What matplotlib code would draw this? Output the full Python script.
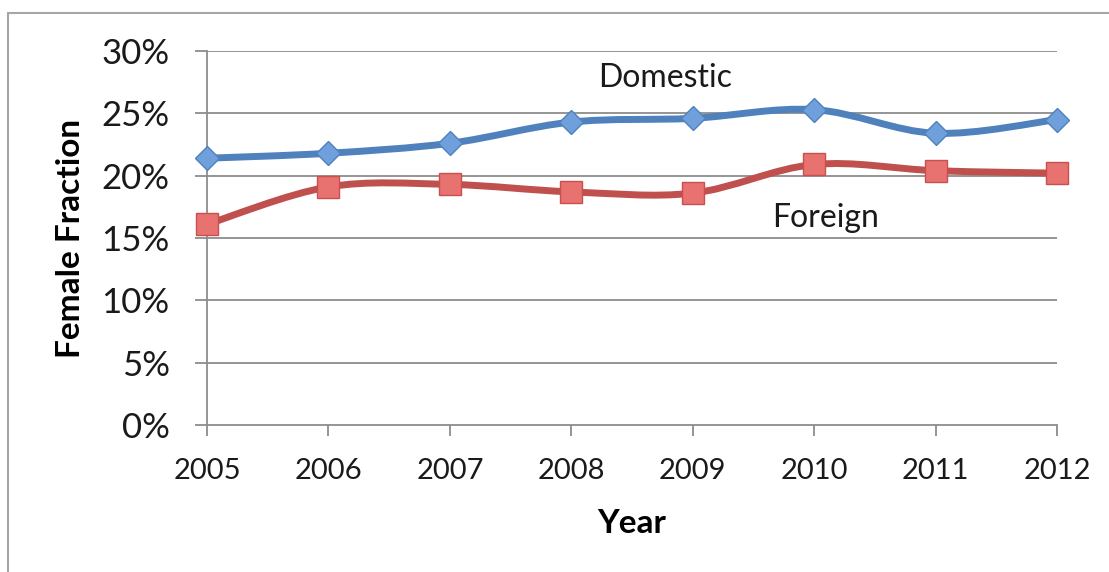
import matplotlib
matplotlib.use("Agg")
import matplotlib.pyplot as plt
from matplotlib.path import Path
from matplotlib.patches import PathPatch, Rectangle
from matplotlib.ticker import FuncFormatter

years = [2005, 2006, 2007, 2008, 2009, 2010, 2011, 2012]
domestic = [0.214, 0.218, 0.226, 0.243, 0.246, 0.253, 0.234, 0.245]
foreign = [0.161, 0.191, 0.193, 0.187, 0.186, 0.209, 0.204, 0.202]
y_ticks = [0, 0.05, 0.10, 0.15, 0.20, 0.25, 0.30]

plt.rcParams['font.family'] = ['Lato', 'DejaVu Sans']


def smooth_path(xs, ys):
    # Excel-like smoothed line: Catmull-Rom segments as cubic Beziers
    verts = [(xs[0], ys[0])]
    codes = [Path.MOVETO]
    n = len(xs)
    for i in range(n - 1):
        x0, y0 = (xs[i - 1], ys[i - 1]) if i > 0 else (xs[i], ys[i])
        x1, y1 = xs[i], ys[i]
        x2, y2 = xs[i + 1], ys[i + 1]
        x3, y3 = (xs[i + 2], ys[i + 2]) if i + 2 < n else (x2, y2)
        c1 = (x1 + (x2 - x0) / 6, y1 + (y2 - y0) / 6)
        c2 = (x2 - (x3 - x1) / 6, y2 - (y3 - y1) / 6)
        verts += [c1, c2, (x2, y2)]
        codes += [Path.CURVE4] * 3
    return Path(verts, codes)


fig = plt.figure(figsize=(11.09, 5.72), dpi=100)
fig.patches.append(Rectangle((0.007, -0.1), 1.2, 1.077, transform=fig.transFigure,
                             fill=False, edgecolor='#a6a6a6', linewidth=1.5))
ax = fig.add_axes([0.1867, 0.257, 0.7665, 0.6538])

grid_col = '#8c8c8c'
for t in y_ticks[1:]:
    ax.axhline(t, color=grid_col, linewidth=1.3, zorder=1)

ax.add_patch(PathPatch(smooth_path(years, domestic), fill=False, clip_on=False,
                       edgecolor='#4f81bd', linewidth=5, capstyle='round', zorder=3))
ax.add_patch(PathPatch(smooth_path(years, foreign), fill=False, clip_on=False,
                       edgecolor='#c0504d', linewidth=5, capstyle='round', zorder=3))
ax.plot(years, domestic, linestyle='none', marker='D', markersize=12, clip_on=False,
        markerfacecolor='#6fa0dc', markeredgecolor='#4f81bd', markeredgewidth=1, zorder=4)
ax.plot(years, foreign, linestyle='none', marker='s', markersize=16, clip_on=False,
        markerfacecolor='#e8726f', markeredgecolor='#c9504d', markeredgewidth=1, zorder=4)

ax.text(2008.77, 0.278, 'Domestic', fontsize=23, ha='center', va='center', color='#1a1a1a')
ax.text(2010.09, 0.166, 'Foreign', fontsize=23, ha='center', va='center', color='#1a1a1a')

ax.set_xlim(2005, 2012)
ax.set_ylim(0, 0.30)
ax.set_xticks(years)
ax.set_xticklabels([str(y) for y in years], fontsize=21)
ax.set_yticks(y_ticks)
ax.yaxis.set_major_formatter(FuncFormatter(lambda v, p: f'{v * 100:.0f}%'))
ax.tick_params(axis='y', labelsize=25, length=9, width=1.3, color=grid_col, pad=18)
ax.tick_params(axis='x', length=8, width=1.3, color=grid_col, pad=16)
for side in ['top', 'right']:
    ax.spines[side].set_visible(False)
for side in ['left', 'bottom']:
    ax.spines[side].set_color(grid_col)
    ax.spines[side].set_linewidth(1.3)
for lab in ax.get_xticklabels() + ax.get_yticklabels():
    lab.set_color('#1a1a1a')

ax.set_xlabel('Year', fontsize=24, fontweight='bold', labelpad=18)
ax.set_ylabel('Female Fraction', fontsize=24, fontweight='bold', labelpad=12)

fig.savefig('out.png', dpi=100)
